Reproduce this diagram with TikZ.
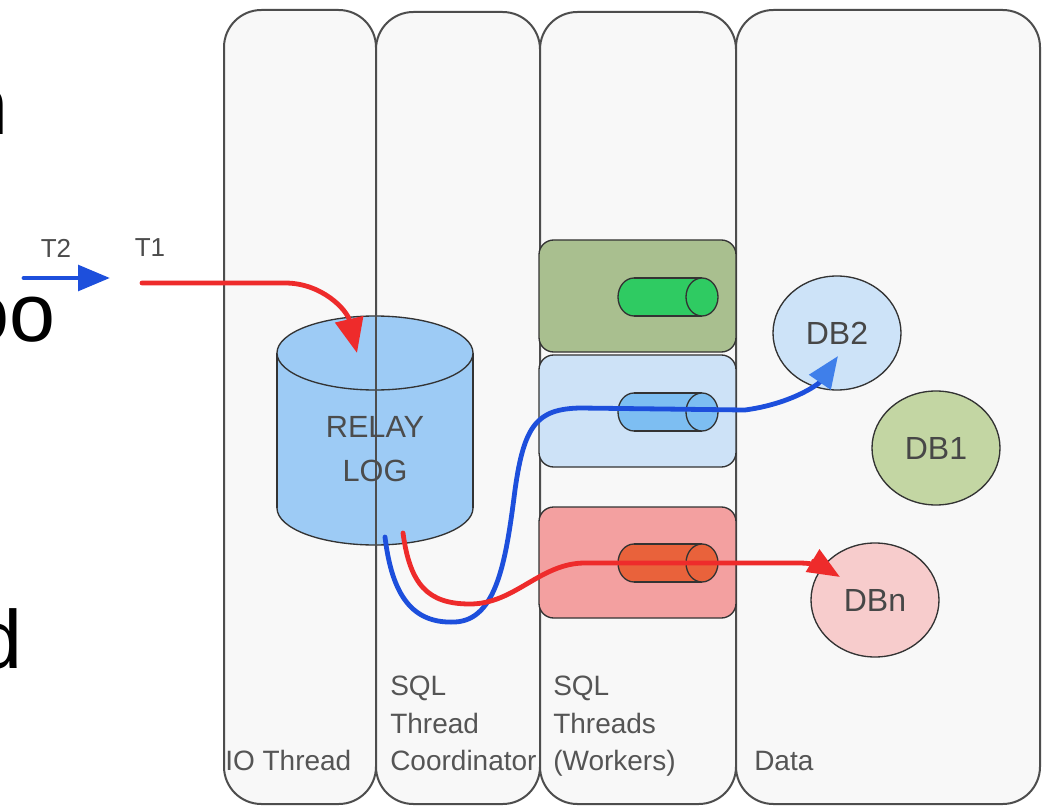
\documentclass[tikz,border=0pt]{standalone}
\usepackage{fontspec}
\setmainfont{Liberation Sans}
\usetikzlibrary{arrows.meta,shapes.geometric}

\definecolor{lanefill}{HTML}{F8F8F8}
\definecolor{laneline}{HTML}{4D4D4D}
\definecolor{labelgray}{HTML}{555555}
\definecolor{edgegray}{HTML}{333333}
\definecolor{relayblue}{HTML}{9DCBF5}
\definecolor{workgreen}{HTML}{A9BF8F}
\definecolor{workblue}{HTML}{CDE2F7}
\definecolor{workred}{HTML}{F3A0A0}
\definecolor{pipegreen}{HTML}{2FCB62}
\definecolor{pipeblue}{HTML}{7DBEF2}
\definecolor{pipered}{HTML}{E9623B}
\definecolor{dbblue}{HTML}{CDE3F8}
\definecolor{dbgreen}{HTML}{C3D6A3}
\definecolor{dbred}{HTML}{F7CCCC}
\definecolor{flowblue}{HTML}{1D4FDC}
\definecolor{tipblue}{HTML}{3F7FEA}
\definecolor{flowred}{HTML}{EE2B2B}

% horizontal worker pipe: #1 = centre y, #2 = fill colour
\newcommand\workerpipe[2]{%
  \filldraw[fill=#2, draw=edgegray, line width=1pt] (634,#1) ellipse [x radius=16, y radius=19];
  \fill[#2] (634,#1-19) rectangle (702,#1+19);
  \draw[edgegray, line width=1pt] (634,#1-19) -- (702,#1-19) (634,#1+19) -- (702,#1+19);
  \filldraw[fill=#2, draw=edgegray, line width=1pt] (702,#1) ellipse [x radius=16, y radius=19];
}

\begin{document}
\begin{tikzpicture}[x=0.75pt, y=-0.75pt,
  lane/.style={draw=laneline, line width=1.5pt, fill=lanefill, rounded corners=28pt},
  worker/.style={draw=edgegray, line width=1pt, rounded corners=11pt},
  lanelabel/.style={anchor=base west, inner sep=0pt, text=labelgray, font=\fontsize{21}{28}\selectfont},
  bigtext/.style={anchor=base east, inner sep=0pt, font=\fontsize{62}{62}\selectfont},
  db/.style={ellipse, draw=edgegray, line width=1pt, minimum width=96pt, minimum height=85.5pt,
             inner sep=0pt, text=black!72, font=\fontsize{24}{24}\selectfont},
  flow/.style={line width=3.6pt, line cap=round},
  tip/.style={-{Triangle[length=24pt, width=19pt]}}]

\useasboundingbox (0,0) rectangle (1050,806);
\clip (0,0) rectangle (1050,806);
\fill[white] (0,0) rectangle (1050,806);

% cut-off heading letters on the left
\node[bigtext] (hn) at (8.6,135) {n};
\node[bigtext] (ho) at (56,341) {oo};
\node[bigtext] (hd) at (22.6,668) {d};

% lanes
\draw[lane] (224,10) rectangle (376,804);
\draw[lane] (376,12) rectangle (540,804);
\draw[lane] (540,12) rectangle (736,804);
\draw[lane] (736,10) rectangle (1040,804);

% worker slots
\draw[worker, fill=workgreen] (539,240) rectangle (736,352);
\draw[worker, fill=workblue] (539,355) rectangle (736,467);
\draw[worker, fill=workred] (539,507) rectangle (736,618);
\workerpipe{297}{pipegreen}
\workerpipe{412}{pipeblue}
\workerpipe{563}{pipered}

% relay log cylinder
\filldraw[fill=relayblue, draw=edgegray, line width=1pt] (375,508) ellipse [x radius=98, y radius=37];
\fill[relayblue] (277,353) rectangle (473,508);
\draw[edgegray, line width=1pt] (277,353) -- (277,508) (473,353) -- (473,508);
\filldraw[fill=relayblue, draw=edgegray, line width=1pt] (375,353) ellipse [x radius=98, y radius=37];
\node[align=center, inner sep=0pt, text=black!70, font=\fontsize{23}{33}\selectfont] (relay) at (375,449) {RELAY\\LOG};
\draw[laneline, line width=1.5pt] (376,300) -- (376,600);

% databases
\node[db, fill=dbblue] (db2) at (837,333) {DB2};
\node[db, fill=dbgreen] (db1) at (936,448) {DB1};
\node[db, fill=dbred] (dbn) at (875,600) {DBn};

% lane captions
\node[lanelabel] (lio) at (225,770) {IO Thread};
\node[lanelabel] (lsq1) at (390,695) {SQL};
\node[lanelabel] (lsq2) at (390,733) {Thread};
\node[lanelabel] (lsq3) at (390,770) {Coordinator};
\node[lanelabel] (lw1) at (553,695) {SQL};
\node[lanelabel] (lw2) at (553,733) {Threads};
\node[lanelabel] (lw3) at (553,770) {(Workers)};
\node[lanelabel] (ldata) at (754,770) {Data};

% transactions
\node[text=black!70, inner sep=0pt, font=\fontsize{19.5}{20}\selectfont] (t2) at (56,248) {T2};
\node[text=black!70, inner sep=0pt, font=\fontsize{19.5}{20}\selectfont] (t1) at (150,248) {T1};

\coordinate (t2start) at (24,278);
\coordinate (t2end) at (110,278);
\coordinate (t1start) at (142,283);
\coordinate (relayin) at (357,353);
\coordinate (bstart) at (385,537);
\coordinate (rstart) at (403,533);
\coordinate (db2in) at (838,356);
\coordinate (dbnin) at (840,577);

\draw[flowblue, flow, tip] (t2start) -- (t2end);
\draw[flowred, flow, -{Triangle[length=26pt, width=21pt]}] (t1start) -- (285,283)
  .. controls (322,283) and (347,310) .. (relayin);

\draw[flowblue, flow, -{Triangle[length=24pt, width=19pt, color=tipblue]}] (bstart)
  .. controls (392,595) and (412,624) .. (455,622)
  .. controls (497,620) and (506,560) .. (515,490)
  .. controls (524,425) and (537,409) .. (580,408) -- (745,410)
  .. controls (790,404) and (818,385) .. (db2in);
\draw[flowred, flow, tip] (rstart) .. controls (410,585) and (428,604) .. (470,604)
  .. controls (515,604) and (540,563) .. (585,563) -- (800,563)
  .. controls (815,563) and (825,568) .. (dbnin);
\end{tikzpicture}
\end{document}
